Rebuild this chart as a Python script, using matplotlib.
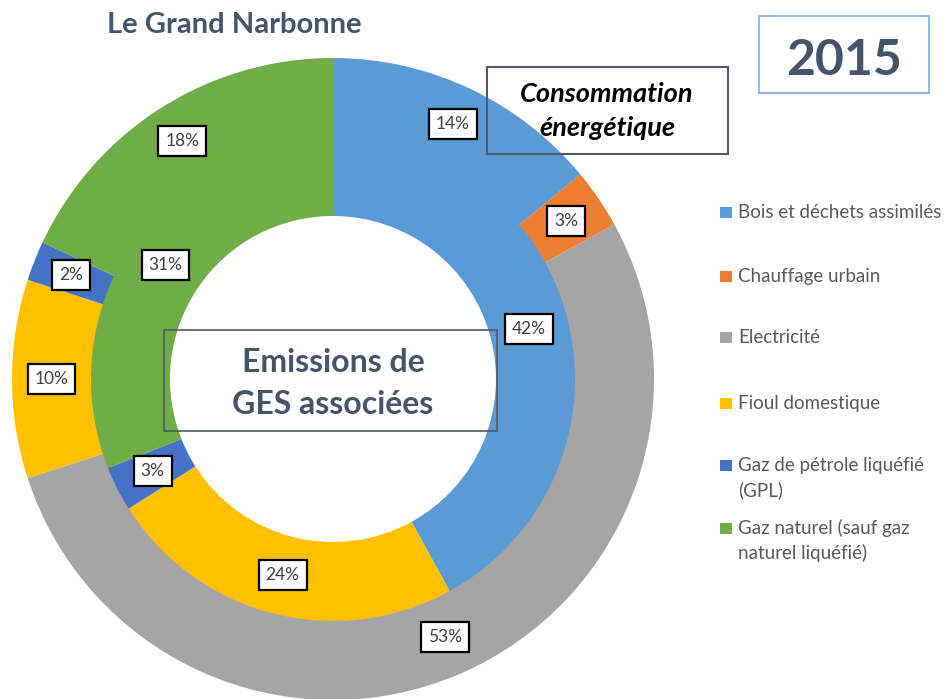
import matplotlib
matplotlib.use('Agg')
import matplotlib.pyplot as plt
from matplotlib.patches import Rectangle

plt.rcParams['font.family'] = ['Lato', 'DejaVu Sans']

categories = ['Bois et déchets assimilés', 'Chauffage urbain', 'Electricité',
              'Fioul domestique', 'Gaz de pétrole liquéfié\n(GPL)',
              'Gaz naturel (sauf gaz\nnaturel liquéfié)']
conso = [14, 3, 53, 10, 2, 18]      # outer ring: consommation energetique (%)
ges = [42, 0, 0, 24, 3, 31]         # inner ring: emissions de GES (%)
colors = ['#5B9BD5', '#ED7D31', '#A5A5A5', '#FFC000', '#4472C4', '#70AD47']

W, H = 952, 699
def Y(y):
    # pixel row from top -> data y
    return H - y

fig = plt.figure(figsize=(W / 100, H / 100), dpi=100)
ax = fig.add_axes([0, 0, 1, 1])
ax.set_xlim(0, W)
ax.set_ylim(0, H)
ax.set_aspect('equal')
ax.axis('off')

cx, cy = 333, Y(379)
r_out, r_in, width = 321, 242, 79

def pct(p):
    return f'{p:.0f}%' if p > 0.5 else ''

box = dict(boxstyle='square,pad=0.4', fc='white', ec='black', lw=1.6)

# outer ring drawn 2px wider inward so no seam shows against the inner ring
_, _, t_out = ax.pie(conso, colors=colors, radius=r_out, center=(cx, cy),
                     startangle=90, counterclock=False, autopct=pct,
                     pctdistance=(r_out - width / 2) / r_out,
                     wedgeprops=dict(width=width + 2, linewidth=0),
                     textprops=dict(fontsize=12.5, color='#404040'))
_, _, t_in = ax.pie(ges, colors=colors, radius=r_in, center=(cx, cy),
                    startangle=90, counterclock=False, autopct=pct,
                    pctdistance=(r_in - width / 2) / r_in,
                    wedgeprops=dict(width=width, linewidth=0),
                    textprops=dict(fontsize=12.5, color='#404040'))
for t in t_out + t_in:
    if t.get_text():
        t.set_bbox(box)
        t.set_zorder(5)
ax.set_xlim(0, W)
ax.set_ylim(0, H)

dark = '#44546A'
ax.text(234, Y(33), 'Le Grand Narbonne', ha='center', va='baseline',
        fontsize=21, fontweight='bold', color=dark)

# 2015 box
ax.add_patch(Rectangle((759, Y(93)), 170, 77, fill=False, ec='#7FAEDB', lw=1.2))
ax.text(844, Y(75), '2015', ha='center', va='baseline', fontsize=36,
        fontweight='bold', color=dark)

# Consommation box
ax.add_patch(Rectangle((487, Y(154)), 241, 87, fill=False, ec='#505a6a',
                       lw=1.5, zorder=6))
ax.text(607, Y(102), 'Consommation', ha='center', va='baseline', fontsize=19.5,
        fontweight='bold', style='italic', color='black', zorder=6)
ax.text(607, Y(136), 'énergétique', ha='center', va='baseline', fontsize=19.5,
        fontweight='bold', style='italic', color='black', zorder=6)

# Emissions box
ax.add_patch(Rectangle((164, Y(431)), 333, 101, fill=False, ec='#505a6a',
                       lw=1.2, zorder=6))
ax.text(333, Y(372), 'Emissions de', ha='center', va='baseline', fontsize=23,
        fontweight='bold', color=dark)
ax.text(333, Y(414), 'GES associées', ha='center', va='baseline', fontsize=23,
        fontweight='bold', color=dark)

# legend
leg_base = [218, 282, 343, 409, 471, 534]
for lab, col, yb in zip(categories, colors, leg_base):
    ax.add_patch(Rectangle((720, Y(yb)), 12, 11, fc=col, ec='none'))
    for i, line in enumerate(lab.split('\n')):
        ax.text(738, Y(yb + 25 * i), line, ha='left', va='baseline',
                fontsize=13.5, color='#595959')

fig.savefig('out.png', dpi=100)
